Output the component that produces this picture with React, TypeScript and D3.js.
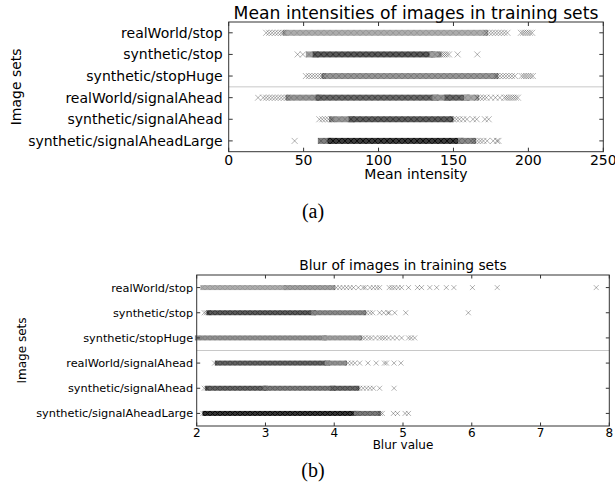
import React from "react";
import * as d3 from "d3";

const categories = [
  "realWorld/stop",
  "synthetic/stop",
  "synthetic/stopHuge",
  "realWorld/signalAhead",
  "synthetic/signalAhead",
  "synthetic/signalAheadLarge",
];

const ticksA = [0, 50, 100, 150, 200, 250];
const ticksB = [2, 3, 4, 5, 6, 7, 8];

// dense runs of overlapping markers: [row, from, to, density 0..1]
const bandsA: [number, number, number, number][] = [
  [0, 38, 171, 0.36],
  [1, 53.5, 58, 0.42],
  [1, 58, 136, 0.72],
  [1, 136, 140, 0.42],
  [2, 64, 178, 0.46],
  [3, 40, 60, 0.46],
  [3, 60, 138, 0.66],
  [3, 138, 146, 0.46],
  [3, 146, 159, 0.66],
  [3, 159, 165, 0.38],
  [4, 69, 82, 0.46],
  [4, 82, 148, 0.7],
  [5, 61.5, 68, 0.56],
  [5, 68, 155, 0.85],
  [5, 155, 163, 0.52],
];

// isolated markers per row
const pointsA: number[][] = [
  [25, 27, 29, 31, 33, 35, 36.5, 172, 174, 176, 178, 180, 182, 184, 186, 195, 196.5, 198, 199.5, 201, 202.5],
  [46, 49.5, 141, 142.5, 144, 145.5, 147, 152.8, 165.9],
  [51.5, 53.5, 55.5, 57.5, 59.5, 61.5, 63, 179, 181, 183, 185, 187, 189, 191, 195.5, 197, 198.5, 200, 201.5, 203],
  [19.6, 23, 25, 27, 29, 31, 33, 35, 37, 39, 166, 168, 170, 172, 175, 178, 181, 184, 185.5, 187, 188.5, 190, 191.5, 193],
  [60.5, 62.5, 64.5, 66.5, 68.5, 150, 152, 154, 156.5, 159, 163, 165.5, 171, 173.5],
  [44, 164, 166, 168, 170, 172.5, 176.5, 179, 180],
];

const bandsB: [number, number, number, number][] = [
  [0, 2.09, 3.3, 0.36],
  [0, 3.3, 3.98, 0.42],
  [1, 2.18, 3.7, 0.72],
  [1, 3.7, 4.43, 0.52],
  [2, 2.01, 3.86, 0.48],
  [2, 3.86, 4.37, 0.42],
  [3, 2.3, 3.9, 0.68],
  [3, 3.9, 4.15, 0.48],
  [4, 2.16, 3.0, 0.68],
  [4, 3.0, 3.98, 0.58],
  [4, 3.98, 4.33, 0.66],
  [5, 2.12, 4.32, 0.88],
  [5, 4.32, 4.64, 0.58],
];

const pointsB: number[][] = [
  [4.03, 4.08, 4.13, 4.18, 4.23, 4.28, 4.35, 4.42, 4.45, 4.52, 4.57, 4.62, 4.66, 4.8, 4.84, 4.88, 4.93, 4.98, 5.08, 5.21, 5.27, 5.39, 5.49, 5.63, 5.74, 6.01, 6.37, 7.81],
  [2.11, 2.14, 2.17, 4.47, 4.52, 4.56, 4.66, 4.72, 4.78, 4.8, 4.88, 5.04, 5.95],
  [4.41, 4.45, 4.5, 4.54, 4.6, 4.66, 4.7, 4.74, 4.79, 4.85, 4.91, 4.98, 5.08, 5.12, 5.17],
  [2.26, 4.2, 4.25, 4.3, 4.37, 4.49, 4.61, 4.73, 4.76, 4.87, 4.97],
  [2.11, 2.14, 4.37, 4.42, 4.47, 4.52, 4.57, 4.66, 4.87],
  [2.09, 4.67, 4.7, 4.86, 4.92, 5.03, 5.08],
];

const FONT = "'DejaVu Sans', sans-serif";
const gray = d3.scaleLinear<string>().domain([0, 1]).range(["#ffffff", "#000000"]);

type PanelProps = {
  id: string;
  left: number; right: number; top: number; bottom: number;
  domain: [number, number]; ticks: number[];
  bands: [number, number, number, number][]; points: number[][];
  title: string; xlabel: string;
  titleSize: number; titleY: number;
  labelSize: number; tickSize: number; tickLabelY: number;
  xlabelSize: number; xlabelY: number;
  ylabelSize: number; ylabelX: number; ylabelGap: number;
  marker: number; tickLen: number;
};

function Panel(p: PanelProps) {
  const x = d3.scaleLinear().domain(p.domain).range([p.left, p.right]);
  const y = d3.scaleBand<string>().domain(categories).range([p.top, p.bottom]);
  const cy = (i: number) => (y(categories[i]) as number) + y.bandwidth() / 2;
  const r = p.marker;
  const sepY = y(categories[3]) as number;
  const midY = (p.top + p.bottom) / 2;
  return (
    <g>
      <defs>
        {p.bands.map(([row, , , dns], i) => (
          <pattern key={"pt" + i} id={`${p.id}pat${i}`} patternUnits="userSpaceOnUse" x={0} y={cy(row) - r} width={2 * r} height={2 * r}>
            <rect width={2 * r} height={2 * r} fill={gray(dns * 0.9)} />
            <path d={`M0,0L${2 * r},${2 * r}M0,${2 * r}L${2 * r},0`} stroke={gray(Math.min(1, dns * 1.12))} strokeWidth={1} />
          </pattern>
        ))}
      </defs>
      <text x={(p.left + p.right) / 2} y={p.titleY} textAnchor="middle" fontFamily={FONT} fontSize={p.titleSize}>{p.title}</text>
      <line x1={p.left} x2={p.right} y1={sepY} y2={sepY} stroke="#c8c8c8" strokeWidth={1} />
      {p.bands.map(([row, a, b], i) => (
        <rect key={"b" + i} x={x(a) - r} width={x(b) - x(a) + 2 * r} y={cy(row) - r} height={2 * r} fill={`url(#${p.id}pat${i})`} />
      ))}
      {p.points.map((row, ri) =>
        row.map((v, i) => (
          <path key={"p" + ri + "_" + i}
            d={`M${x(v) - r},${cy(ri) - r}L${x(v) + r},${cy(ri) + r}M${x(v) - r},${cy(ri) + r}L${x(v) + r},${cy(ri) - r}`}
            stroke="#000" strokeOpacity={0.3} strokeWidth={1} fill="none" />
        ))
      )}
      <rect x={p.left} y={p.top} width={p.right - p.left} height={p.bottom - p.top} fill="none" stroke="#333" strokeWidth={1} />
      {p.ticks.map((t) => (
        <g key={"t" + t}>
          <line x1={x(t)} x2={x(t)} y1={p.bottom} y2={p.bottom - p.tickLen} stroke="#333" />
          <line x1={x(t)} x2={x(t)} y1={p.top} y2={p.top + p.tickLen} stroke="#333" />
          <text x={x(t)} y={p.tickLabelY} textAnchor="middle" fontFamily={FONT} fontSize={p.tickSize}>{t}</text>
        </g>
      ))}
      {categories.map((c, i) => (
        <g key={c}>
          <line x1={p.left} x2={p.left + p.tickLen} y1={cy(i)} y2={cy(i)} stroke="#333" />
          <line x1={p.right} x2={p.right - p.tickLen} y1={cy(i)} y2={cy(i)} stroke="#333" />
          <text x={p.left - p.ylabelGap} y={cy(i)} dy="0.36em" textAnchor="end" fontFamily={FONT} fontSize={p.labelSize}>{c}</text>
        </g>
      ))}
      <text x={(p.left + p.right) / 2} y={p.xlabelY} textAnchor="middle" fontFamily={FONT} fontSize={p.xlabelSize}>{p.xlabel}</text>
      <text transform={`translate(${p.ylabelX},${midY}) rotate(-90)`} textAnchor="middle" fontFamily={FONT} fontSize={p.ylabelSize}>Image sets</text>
    </g>
  );
}

export default function App() {
  return (
    <svg width={615} height={493} style={{ position: "absolute", left: 0, top: 0, background: "#fff" }}>
      <rect width={615} height={493} fill="#fff" />
      <Panel id="a" left={228.7} right={603.3} top={22} bottom={151.7} domain={[0, 250]} ticks={ticksA}
        bands={bandsA} points={pointsA} title="Mean intensities of images in training sets" xlabel="Mean intensity"
        titleSize={17.2} titleY={18.5} labelSize={14} tickSize={14} tickLabelY={164.5}
        xlabelSize={14} xlabelY={179} ylabelSize={14} ylabelX={21} ylabelGap={6} marker={3} tickLen={4} />
      <text x={313} y={218} textAnchor="middle" fontFamily="'Liberation Serif', serif" fontSize={20}>(a)</text>
      <Panel id="b" left={196.7} right={609.3} top={275} bottom={426} domain={[2, 8]} ticks={ticksB}
        bands={bandsB} points={pointsB} title="Blur of images in training sets" xlabel="Blur value"
        titleSize={13.8} titleY={269.5} labelSize={11.3} tickSize={12} tickLabelY={436.5}
        xlabelSize={12} xlabelY={448.5} ylabelSize={12} ylabelX={26} ylabelGap={3.5} marker={2.5} tickLen={3.5} />
      <text x={313} y={477} textAnchor="middle" fontFamily="'Liberation Serif', serif" fontSize={20}>(b)</text>
    </svg>
  );
}
